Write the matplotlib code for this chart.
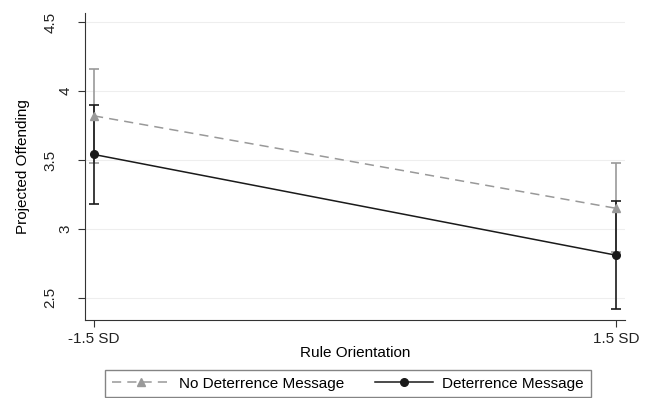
import matplotlib.pyplot as plt
import matplotlib.transforms as mtransforms
import numpy as np

plt.rcParams['font.family'] = ['Liberation Sans', 'DejaVu Sans']

# data
x_vals = [-1.5, 1.5]
x_labels = ['-1.5 SD', '1.5 SD']
no_msg_mean = [3.82, 3.15]
no_msg_lo = [3.48, 2.83]
no_msg_hi = [4.16, 3.48]
msg_mean = [3.54, 2.81]
msg_lo = [3.18, 2.42]
msg_hi = [3.90, 3.20]

fig = plt.figure(figsize=(6.49, 3.98), dpi=100)
ax = fig.add_axes([0.131, 0.196, 0.832, 0.771])

gray = '#999999'
black = '#1a1a1a'

# confidence intervals
ax.errorbar(x_vals, no_msg_mean,
            yerr=[np.subtract(no_msg_mean, no_msg_lo), np.subtract(no_msg_hi, no_msg_mean)],
            fmt='none', ecolor=gray, elinewidth=1.2, capsize=3.5, capthick=1.2, zorder=2)
ax.errorbar(x_vals, msg_mean,
            yerr=[np.subtract(msg_mean, msg_lo), np.subtract(msg_hi, msg_mean)],
            fmt='none', ecolor=black, elinewidth=1.2, capsize=3.5, capthick=1.2, zorder=3)

l1, = ax.plot(x_vals, no_msg_mean, color=gray, ls=(0, (6, 4)), lw=1.1,
              marker='^', ms=6, zorder=4, label='No Deterrence Message')
l2, = ax.plot(x_vals, msg_mean, color=black, lw=1.1,
              marker='o', ms=5.5, zorder=5, label='Deterrence Message')

ax.set_xlim(-1.552, 1.552)
ax.set_ylim(2.34, 4.565)
ax.set_xticks(x_vals)
ax.set_xticklabels(x_labels, fontsize=11)
ax.set_yticks([2.5, 3, 3.5, 4, 4.5])
ax.set_yticklabels(['2.5', '3', '3.5', '4', '4.5'], fontsize=11, rotation=90, va='center')
ax.yaxis.grid(True, color='#eeeeee', lw=0.8)
ax.set_axisbelow(True)

for s in ['top', 'right']:
    ax.spines[s].set_visible(False)
ax.spines['left'].set_color('#333333')
ax.spines['bottom'].set_color('#333333')
ax.tick_params(colors='#333333', length=5, labelcolor='#222222')
ax.tick_params(axis='y', pad=15)

# single-digit labels sit closer to the axis, as in the reference
for lab in ax.get_yticklabels():
    if '.' not in lab.get_text():
        lab.set_transform(lab.get_transform() +
                          mtransforms.ScaledTranslation(11 / 72, 0, fig.dpi_scale_trans))

ax.set_xlabel('Rule Orientation', fontsize=11, labelpad=0.5)
ax.set_ylabel('Projected Offending', fontsize=11)
ax.yaxis.set_label_coords(-0.101, 0.5)

leg = fig.legend(handles=[l1, l2], loc='upper left', bbox_to_anchor=(105 / 649, 0.071),
                 ncol=2, fontsize=11, frameon=True, fancybox=False, handlelength=3.8,
                 handletextpad=0.6, columnspacing=2.0, borderpad=0.45,
                 borderaxespad=0, edgecolor='#666666')
leg.get_frame().set_linewidth(1.0)

fig.savefig('out.png', dpi=100)
